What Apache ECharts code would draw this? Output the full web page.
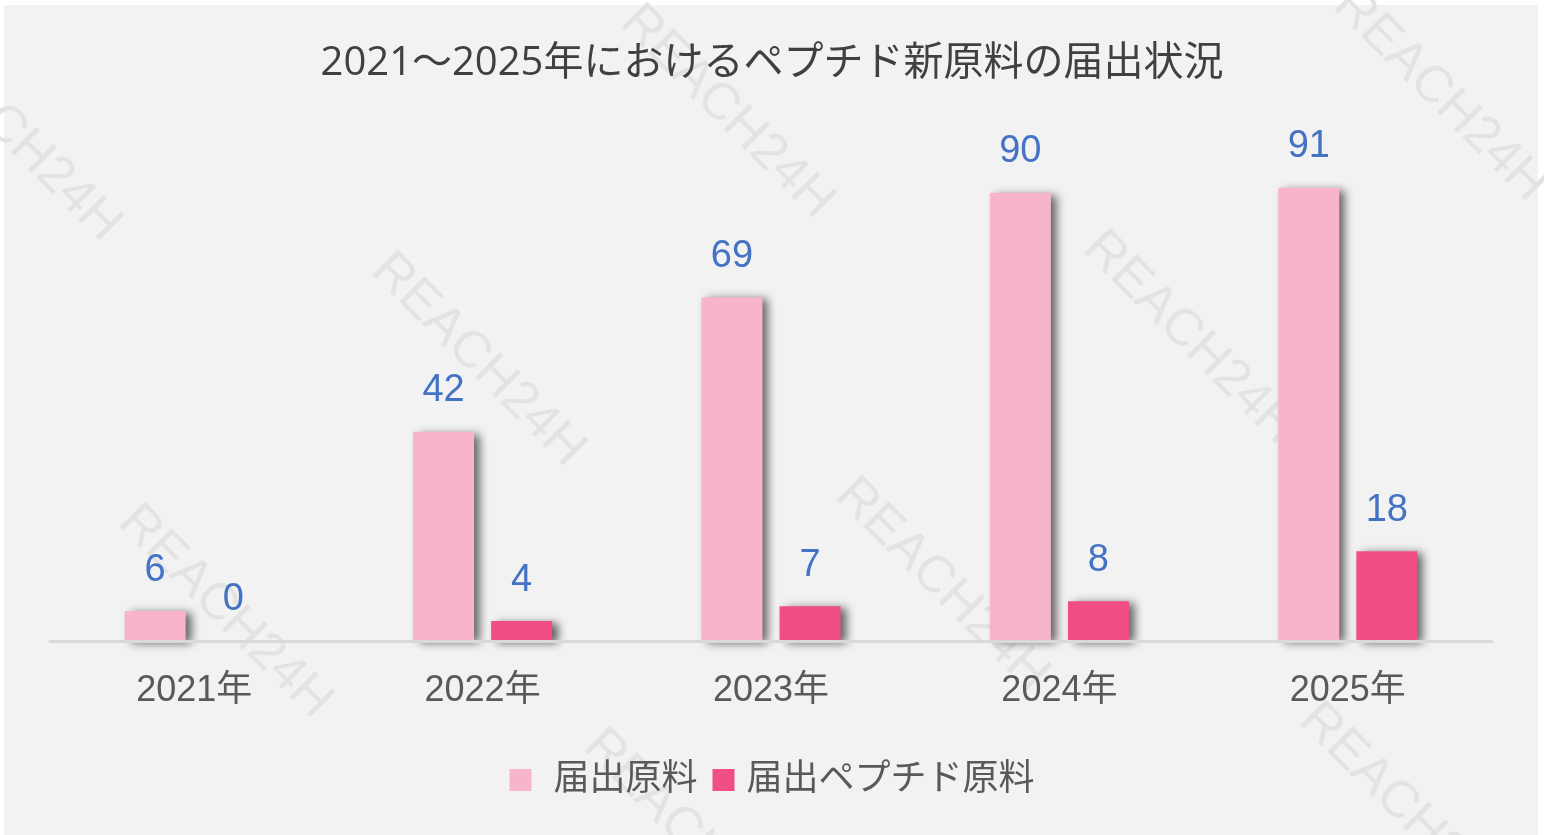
<!DOCTYPE html>
<html>
<head>
<meta charset="utf-8">
<script src="https://cdn.jsdelivr.net/npm/echarts@6/dist/echarts.min.js"></script>
<style>
html,body{margin:0;padding:0;background:#fff;}
#main{width:1544px;height:835px;}
</style>
</head>
<body>
<div id="main"></div>
<script>
const categories = ['2021年', '2022年', '2023年', '2024年', '2025年'];
const seriesNames = ['届出原料', '届出ペプチド原料'];
const notifiedMaterials = [6, 42, 69, 90, 91];
const peptideMaterials = [0, 4, 7, 8, 18];
const watermarkText = 'REACH24H';
const watermarkCenters = [[14,135],[225,612],[478,360],[727,112],[942,585],[690,836],[1190,338],[1440,95],[1406,810]];

const chart = echarts.init(document.getElementById('main'));
const cjk = "'Liberation Sans', 'Noto Sans CJK JP', sans-serif";

const graphics = [{
  type: 'rect', z: 0, silent: true,
  shape: {x: 4, y: 5, width: 1534, height: 830},
  style: {fill: '#f2f2f2'}
}].concat(watermarkCenters.map(c => ({
  type: 'text', z: 1, silent: true,
  x: c[0], y: c[1], rotation: -Math.PI / 4,
  style: {text: watermarkText, fill: '#e3e3e3', font: "52px 'Liberation Sans', sans-serif", align: 'center', verticalAlign: 'middle'}
})));

const labelStyle = {
  show: true, position: 'top', distance: 22,
  color: '#4472c4', fontSize: 38, fontFamily: "'Liberation Sans', sans-serif"
};

const shadow = {shadowColor: 'rgba(0,0,0,0.6)', shadowBlur: 9, shadowOffsetX: 6, shadowOffsetY: 2};

chart.setOption({
  backgroundColor: '#ffffff',
  animation: false,
  graphic: graphics,
  title: {
    text: '2021～2025年におけるペプチド新原料の届出状況',
    left: 'center', top: 39,
    textStyle: {color: '#404040', fontSize: 40, fontWeight: 'normal', fontFamily: "'Open Sans', 'Noto Sans CJK JP', sans-serif"}
  },
  legend: {
    top: 757, left: 'center',
    itemWidth: 22, itemHeight: 22, itemGap: 15,
    icon: 'rect',
    formatter: n => n === seriesNames[0] ? ' ' + n : n,
    textStyle: {color: '#595959', fontSize: 36, fontFamily: cjk, padding: [0, 0, 0, 7]}
  },
  grid: {left: 50, right: 52, top: 143, bottom: 194},
  xAxis: {
    type: 'category', data: categories, z: 5,
    axisLine: {lineStyle: {color: '#d9d9d9', width: 3}},
    axisTick: {show: false},
    axisLabel: {color: '#595959', fontSize: 36, fontFamily: cjk, margin: 32}
  },
  yAxis: {type: 'value', min: 0, max: 100, show: false, splitLine: {show: false}},
  series: [{
    name: seriesNames[0], type: 'bar', data: notifiedMaterials,
    barWidth: 61, barGap: '28%',
    itemStyle: Object.assign({color: '#f8b4cc'}, shadow),
    label: labelStyle
  }, {
    name: seriesNames[1], type: 'bar', data: peptideMaterials,
    barWidth: 61,
    itemStyle: Object.assign({color: '#f04e85'}, shadow),
    label: labelStyle
  }]
});
</script>
</body>
</html>
